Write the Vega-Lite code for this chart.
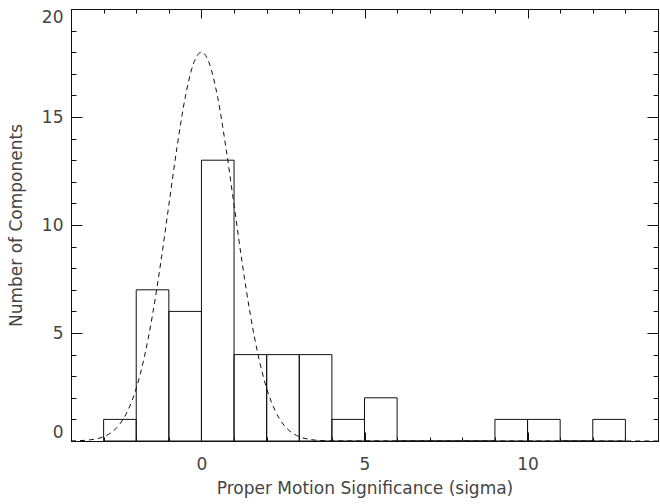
{
  "$schema": "https://vega.github.io/schema/vega-lite/v6.json",
  "width": 587,
  "height": 432,
  "autosize": "none",
  "padding": {"left": 71, "top": 9, "right": 2, "bottom": 63},
  "background": "white",
  "config": {
    "view": {"stroke": "#111", "strokeWidth": 1},
    "axis": {
      "grid": false,
      "domain": false,
      "tickColor": "#111",
      "tickWidth": 1,
      "labelFont": "DejaVu Sans",
      "labelFontSize": 17,
      "labelColor": "#444",
      "titleFont": "DejaVu Sans",
      "titleFontSize": 17,
      "titleFontWeight": "normal",
      "titleColor": "#444"
    }
  },
  "datasets": {
    "hist": [
      {"x0": -3, "x1": -2, "n": 1},
      {"x0": -2, "x1": -1, "n": 7},
      {"x0": -1, "x1": 0, "n": 6},
      {"x0": 0, "x1": 1, "n": 13},
      {"x0": 1, "x1": 2, "n": 4},
      {"x0": 2, "x1": 3, "n": 4},
      {"x0": 3, "x1": 4, "n": 4},
      {"x0": 4, "x1": 5, "n": 1},
      {"x0": 5, "x1": 6, "n": 2},
      {"x0": 6, "x1": 7, "n": 0},
      {"x0": 7, "x1": 8, "n": 0},
      {"x0": 8, "x1": 9, "n": 0},
      {"x0": 9, "x1": 10, "n": 1},
      {"x0": 10, "x1": 11, "n": 1},
      {"x0": 11, "x1": 12, "n": 0},
      {"x0": 12, "x1": 13, "n": 1}
    ],
    "gauss": [
      {"x": -4, "y": 0.006},
      {"x": -3.75, "y": 0.0159},
      {"x": -3.5, "y": 0.0394},
      {"x": -3.25, "y": 0.0916},
      {"x": -3, "y": 0.2},
      {"x": -2.75, "y": 0.41},
      {"x": -2.5, "y": 0.791},
      {"x": -2.25, "y": 1.432},
      {"x": -2, "y": 2.436},
      {"x": -1.75, "y": 3.894},
      {"x": -1.5, "y": 5.844},
      {"x": -1.25, "y": 8.24},
      {"x": -1, "y": 10.918},
      {"x": -0.75, "y": 13.587},
      {"x": -0.5, "y": 15.885},
      {"x": -0.25, "y": 17.446},
      {"x": 0, "y": 18},
      {"x": 0.25, "y": 17.446},
      {"x": 0.5, "y": 15.885},
      {"x": 0.75, "y": 13.587},
      {"x": 1, "y": 10.918},
      {"x": 1.25, "y": 8.24},
      {"x": 1.5, "y": 5.844},
      {"x": 1.75, "y": 3.894},
      {"x": 2, "y": 2.436},
      {"x": 2.25, "y": 1.432},
      {"x": 2.5, "y": 0.791},
      {"x": 2.75, "y": 0.41},
      {"x": 3, "y": 0.2},
      {"x": 3.25, "y": 0.0916},
      {"x": 3.5, "y": 0.0394},
      {"x": 3.75, "y": 0.0159},
      {"x": 4, "y": 0.006},
      {"x": 14, "y": 0}
    ]
  },
  "resolve": {"axis": {"x": "independent", "y": "independent"}},
  "layer": [
    {
      "data": {"name": "hist"},
      "mark": {"type": "rect", "fill": null, "fillOpacity": 0, "stroke": "#111", "strokeWidth": 1},
      "encoding": {
        "x": {"field": "x0", "type": "quantitative", "scale": {"domain": [-4, 14], "nice": false, "zero": false},
          "axis": {"orient": "bottom", "values": [0, 5, 10], "tickSize": -9, "labelPadding": 24, "title": "Proper Motion Significance (sigma)", "titlePadding": 8}},
        "x2": {"field": "x1"},
        "y": {"field": "n", "type": "quantitative", "scale": {"domain": [0, 20], "nice": false},
          "axis": {"orient": "left", "values": [0, 5, 10, 15, 20], "tickSize": -11, "labelPadding": 19, "labelFlush": true, "title": "Number of Components", "titlePadding": 16}},
        "y2": {"datum": 0}
      }
    },
    {
      "data": {"name": "gauss"},
      "mark": {"type": "line", "stroke": "#111", "strokeWidth": 1, "strokeDash": [5, 4], "interpolate": "monotone"},
      "encoding": {
        "x": {"field": "x", "type": "quantitative", "axis": {"orient": "bottom", "values": [-4,-3,-2,-1,0,1,2,3,4,5,6,7,8,9,10,11,12,13,14], "tickSize": -4, "labels": false, "title": null}},
        "y": {"field": "y", "type": "quantitative", "axis": {"orient": "left", "values": [0,1,2,3,4,5,6,7,8,9,10,11,12,13,14,15,16,17,18,19,20], "tickSize": -5, "labels": false, "title": null}}
      }
    },
    {
      "data": {"name": "gauss"},
      "mark": {"type": "line", "opacity": 0},
      "encoding": {
        "x": {"field": "x", "type": "quantitative", "axis": {"orient": "top", "values": [0, 5, 10], "tickSize": -9, "labels": false, "title": null}},
        "y": {"field": "y", "type": "quantitative", "axis": {"orient": "right", "values": [0, 5, 10, 15, 20], "tickSize": -11, "labels": false, "title": null}}
      }
    },
    {
      "data": {"name": "gauss"},
      "mark": {"type": "line", "opacity": 0},
      "encoding": {
        "x": {"field": "x", "type": "quantitative", "axis": {"orient": "top", "values": [-4,-3,-2,-1,0,1,2,3,4,5,6,7,8,9,10,11,12,13,14], "tickSize": -4, "labels": false, "title": null}},
        "y": {"field": "y", "type": "quantitative", "axis": {"orient": "right", "values": [0,1,2,3,4,5,6,7,8,9,10,11,12,13,14,15,16,17,18,19,20], "tickSize": -5, "labels": false, "title": null}}
      }
    }
  ]
}
